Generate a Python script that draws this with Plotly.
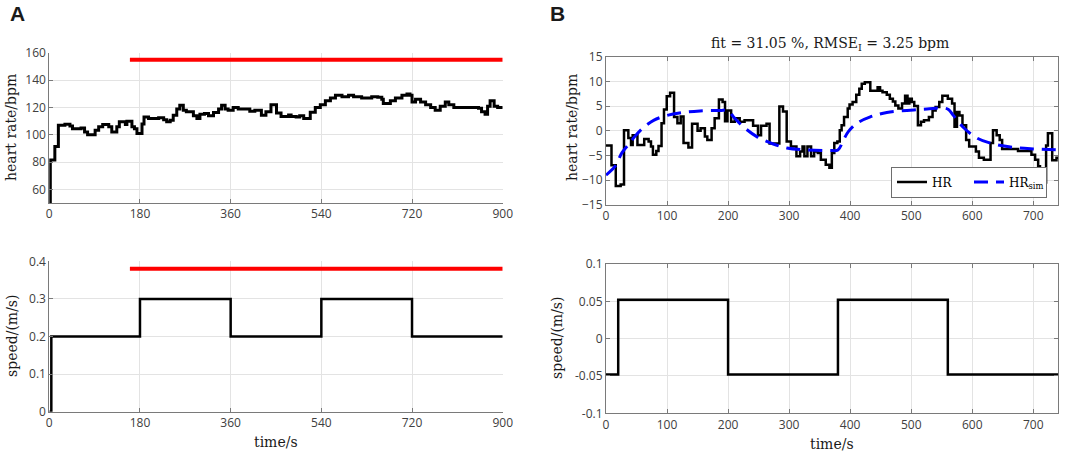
import plotly.graph_objects as go

# ---------------- data ----------------
# Panel A, heart rate (step breakpoints)
hr_a_t = [0, 2, 11, 18, 31, 41, 46, 63, 70, 76, 91, 98, 106, 118, 124, 134, 139, 151, 154, 164,
          169, 174, 184, 188, 197, 217, 227, 233, 240, 246, 253, 259, 266, 272, 286, 293, 299,
          308, 316, 326, 336, 342, 349, 355, 365, 375, 398, 408, 421, 430, 440, 451, 460, 475,
          480, 490, 497, 505, 518, 528, 538, 548, 558, 568, 581, 594, 604, 620, 640, 652, 660,
          663, 677, 687, 700, 710, 716, 720, 727, 737, 747, 757, 766, 776, 786, 793, 803, 852,
          858, 865, 870, 875, 883, 890, 900]
hr_a_v = [40, 81.5, 91.5, 107, 107.7, 106.5, 104.5, 105, 102, 100, 103.3, 106, 107.5, 106, 102,
          106, 109.5, 107.5, 110, 106, 104.5, 101, 108, 113, 112, 112.6, 111, 109.5, 110.7,
          114.4, 119, 121.7, 118, 117, 114, 112, 115, 115.6, 114, 116.3, 119, 121.7, 119, 118,
          120, 119, 117.3, 118, 114.4, 117, 122, 116, 113.5, 114.5, 113.5, 113, 114, 112,
          116.5, 120, 122, 125, 127, 129, 128, 129, 128, 127, 128, 127.5, 126, 123, 125, 127,
          129, 130, 129, 124, 126, 124, 122, 120, 118, 121, 124, 122, 120, 119.5, 117, 115,
          121, 125, 121, 120, 120]

# Panel A, speed
sp_a_t = [0, 4, 180, 360, 540, 720, 900]
sp_a_v = [0, 0.2, 0.3, 0.2, 0.3, 0.2, 0.2]

# Panel A, red bars
red_t = [160, 900]
red_hr = [155, 155]
red_sp = [0.38, 0.38]

# Panel B, heart rate deviation (step breakpoints)
hr_b_t = [0, 9, 16, 24, 29.5, 36.6, 41, 43.7, 51.5, 62.6, 69.8, 73.7, 76.9, 82.4, 86, 91, 95,
          99.5, 105, 111.5, 117, 122.4, 127, 135, 141, 150, 155, 162, 166, 173, 178, 185, 191,
          195, 199, 205, 211, 219, 227, 241, 249, 254, 263, 268, 284, 290, 296, 303, 312, 318,
          322, 325, 330, 336, 341, 347, 352, 360, 366, 370, 374, 379, 383, 386, 390, 396, 399,
          404, 410, 415, 419, 424, 433, 445, 449, 453, 460, 465, 470, 474, 479, 485, 490, 494,
          497, 501, 505, 511, 516, 521, 529, 535, 540, 546, 551, 560, 567, 571, 575, 579, 584,
          590, 595, 606, 611, 619, 630, 634, 640, 645, 649, 675, 697, 703, 708, 711, 716, 718,
          721, 724, 731, 738, 741]
hr_b_v = [-3, -7, -11.2, -10.9, 0.1, -1.5, -2.9, -0.9, -2.9, -1.7, -2.2, -3.2, -4.9, -4.1, -3.1,
          1.5, 4.3, 7, 7.7, 2.8, 1.5, 2.9, -2.5, -3.4, 1.4, 0, 0.5, -1.2, -1.9, 0.5, 2.5, 6.3,
          5.8, 1.9, 4.1, 1.8, 2.5, 1.8, 2.1, 1.0, -0.9, 1.0, 1.4, -2.6, 4.9, 3.9, -2.2, -3.2,
          -5.2, -4.2, -3.2, -5.2, -3.2, -5.2, -4.2, -4.5, -5.9, -6.9, -7.5, -4.5, -2.5, -2.2,
          0.1, 1.1, 2.8, 4.5, 5.3, 5.8, 7.3, 8.5, 9.5, 9.8, 8.1, 8.8, 8.1, 7.8, 7.3, 6.5, 5.9,
          5.1, 4.5, 5.5, 7.1, 5.5, 6.5, 5.8, 5.0, 1.1, 1.8, 2.1, 2.8, 4.1, 4.8, 5.8, 7.1, 6.5,
          5.5, 0.8, 3.8, 3.1, 1.1, -1.9, -3.2, -4.2, -5.5, -5.9, -2.5, 0.1, -0.9, -1.9, -3.7,
          -4.1, -4.9, -5.9, -7.2, -8.5, -9.5, -10.5, -3.0, -0.5, -6.0, -5.5, -5.5]

# Panel B, simulated heart rate
sim_t = [0, 15, 26, 39, 47, 61, 78, 100, 127, 154, 187, 200, 209, 225, 247, 274, 296, 329, 367,
         380, 389, 397, 411, 433, 460, 493, 526, 553, 561, 569, 586, 608, 635, 668, 700, 741]
sim_v = [-9, -7.2, -4.5, -2.5, -1.2, 0.6, 2.1, 3.1, 3.7, 4.0, 4.1, 4.1, 2.8, 0.8, -1.2, -2.7,
         -3.5, -3.9, -4.0, -3.9, -1.9, -0.2, 1.5, 2.8, 3.7, 4.1, 4.4, 4.6, 4.3, 3.1, 0.6, -1.5,
         -2.7, -3.4, -3.7, -3.9]

# Panel B, speed deviation
sp_b_t = [0, 20, 200, 380, 560, 741]
sp_b_v = [-0.048, 0.052, -0.048, 0.052, -0.048, -0.048]

xticks_a = [0, 180, 360, 540, 720, 900]
yticks_a_hr = [60, 80, 100, 120, 140, 160]
yticks_a_sp = [0, 0.1, 0.2, 0.3, 0.4]
yticks_a_sp_txt = ["0", "0.1", "0.2", "0.3", "0.4"]
xticks_b = [0, 100, 200, 300, 400, 500, 600, 700]
yticks_b_hr = [-15, -10, -5, 0, 5, 10, 15]
yticks_b_sp = [-0.1, -0.05, 0, 0.05, 0.1]
yticks_b_sp_txt = ["-0.1", "-0.05", "0", "0.05", "0.1"]

# ---------------- figure ----------------
W, H = 1065, 455
fig = go.Figure()

fig.add_trace(go.Scatter(x=red_t, y=red_hr, mode="lines", line=dict(color="#ff0000", width=4),
                         xaxis="x", yaxis="y", showlegend=False))
fig.add_trace(go.Scatter(x=hr_a_t, y=hr_a_v, mode="lines", line=dict(color="black", width=3, shape="hv"),
                         xaxis="x", yaxis="y", showlegend=False))
fig.add_trace(go.Scatter(x=red_t, y=red_sp, mode="lines", line=dict(color="#ff0000", width=4),
                         xaxis="x2", yaxis="y2", showlegend=False))
fig.add_trace(go.Scatter(x=sp_a_t, y=sp_a_v, mode="lines", line=dict(color="black", width=2.5, shape="hv"),
                         xaxis="x2", yaxis="y2", showlegend=False))
fig.add_trace(go.Scatter(x=hr_b_t, y=hr_b_v, mode="lines", name="HR",
                         line=dict(color="black", width=2.5, shape="hv"),
                         xaxis="x3", yaxis="y3"))
fig.add_trace(go.Scatter(x=sim_t, y=sim_v, mode="lines", name="HR<sub>sim</sub>",
                         line=dict(color="#0000ff", width=3, dash="14px,8px", shape="spline"),
                         xaxis="x3", yaxis="y3"))
fig.add_trace(go.Scatter(x=sp_b_t, y=sp_b_v, mode="lines", line=dict(color="black", width=2.5, shape="hv"),
                         xaxis="x4", yaxis="y4", showlegend=False))


def px_x(a, b):
    return [a / W, b / W]


def px_y(top, bottom):
    return [(H - bottom) / H, (H - top) / H]


tickfont = dict(family="Open Sans, Noto Sans, sans-serif", size=12, color="#404040")
axcol = "#7a7a7a"
grid = "#e3e3e3"


def xax(domain, anchor, rng, tv, mirror):
    return dict(domain=domain, anchor=anchor, range=rng, tickvals=tv, ticks="inside", ticklen=4,
                tickcolor=axcol, showline=True, linecolor=axcol, linewidth=1, mirror=mirror,
                showgrid=True, gridcolor=grid, zeroline=False, tickfont=tickfont,
                automargin=False, fixedrange=True)


def yax(domain, anchor, rng, tv, tt, mirror):
    d = dict(domain=domain, anchor=anchor, range=rng, tickvals=tv, ticks="inside", ticklen=4,
             tickcolor=axcol, showline=True, linecolor=axcol, linewidth=1, mirror=mirror,
             showgrid=True, gridcolor=grid, zeroline=False, tickfont=tickfont,
             automargin=False, fixedrange=True)
    if tt is not None:
        d["ticktext"] = tt
    return d


dxA = px_x(49.3, 502.7)
dxB = px_x(606, 1058.3)
fig.update_layout(
    width=W, height=H, margin=dict(l=0, r=0, t=0, b=0, autoexpand=False),
    paper_bgcolor="white", plot_bgcolor="white",
    xaxis=xax(dxA, "y", [0, 900], xticks_a, False),
    yaxis=yax(px_y(53, 203), "x", [50, 160], yticks_a_hr, None, False),
    xaxis2=xax(dxA, "y2", [0, 900], xticks_a, False),
    yaxis2=yax(px_y(261.3, 411.7), "x2", [0, 0.4], yticks_a_sp, yticks_a_sp_txt, False),
    xaxis3=xax(dxB, "y3", [0, 741], xticks_b, "ticks"),
    yaxis3=yax(px_y(56.7, 204.7), "x3", [-15, 15], yticks_b_hr, None, "ticks"),
    xaxis4=xax(dxB, "y4", [0, 741], xticks_b, "ticks"),
    yaxis4=yax(px_y(264, 413.3), "x4", [-0.1, 0.1], yticks_b_sp, yticks_b_sp_txt, "ticks"),
    legend=dict(orientation="h", x=1047 / W, xanchor="right", y=(H - 197.5) / H, yanchor="bottom",
                bgcolor="white", bordercolor="#6e6e6e", borderwidth=1,
                font=dict(family="DejaVu Serif, serif", size=12, color="black"),
                itemwidth=30, tracegroupgap=0, entrywidth=32),
    showlegend=True,
)

serif = "DejaVu Serif, Liberation Serif, serif"
ann = []


def label(text, x, y, angle=0, size=14, family=serif, bold=False):
    ann.append(dict(text=("<b>%s</b>" % text) if bold else text, x=x / W, y=(H - y) / H,
                    xref="paper", yref="paper", showarrow=False, textangle=angle,
                    xanchor="center", yanchor="middle",
                    font=dict(family=family, size=size, color="#1a1a1a")))


label("A", 17, 13, size=21, family="Liberation Sans, Arial, sans-serif", bold=True)
label("B", 557, 13, size=21, family="Liberation Sans, Arial, sans-serif", bold=True)
label("heart rate/bpm", 11, 128, angle=-90)
label("speed/(m/s)", 12, 336, angle=-90)
label("heart rate/bpm", 572, 128, angle=-90)
label("speed/(m/s)", 557, 338, angle=-90)
label("time/s", 276, 442)
label("time/s", 832, 444)
label("fit = 31.05 %, RMSE<sub>I</sub> = 3.25 bpm", 830, 44, size=14)
fig.update_layout(annotations=ann)

fig.write_html("out.html", config={"displayModeBar": False},
               post_script="document.body.style.margin='0';document.body.style.overflow='hidden';")
